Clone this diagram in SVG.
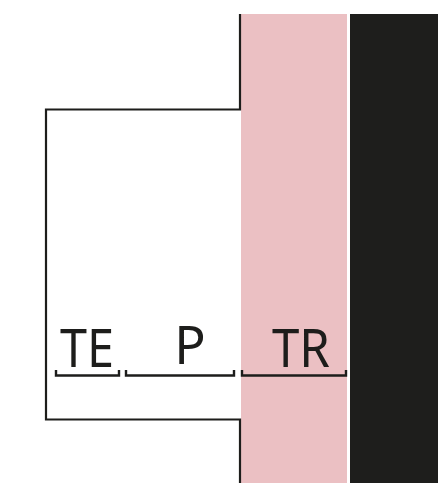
<svg xmlns="http://www.w3.org/2000/svg" width="438" height="483" viewBox="0 0 438 483">
<style>
.ln{fill:none;stroke:#1d1d1b;stroke-width:2.2}
.br{fill:none;stroke:#1d1d1b;stroke-width:2.4}
.lb{font-family:"Noto Sans","Open Sans",sans-serif;font-size:52px;fill:#1d1d1b;text-anchor:middle}
</style>
<rect width="438" height="483" fill="#ffffff"/>
<g id="layer-TR-fill">
<rect x="241" y="14" width="106" height="469" fill="#ebc0c3"/>
</g>
<g id="layer-dark">
<rect x="350" y="14" width="88" height="469" fill="#1e1e1c"/>
</g>
<g id="outline">
<path class="ln" d="M240,14 V109.5 H46 V419.5 H240 V483"/>
</g>
<g id="connectors">
<path class="br" d="M56,370 V375.5 H119 V370"/>
<path class="br" d="M126,370 V375.5 H234 V370"/>
<path class="br" d="M242,370 V375.5 H346 V370"/>
</g>
<g id="label-TE"><text class="lb" x="87" y="367" textLength="54" lengthAdjust="spacingAndGlyphs">TE</text></g>
<g id="label-P"><text class="lb" x="190" y="364">P</text></g>
<g id="label-TR"><text class="lb" x="301" y="367" textLength="58" lengthAdjust="spacingAndGlyphs">TR</text></g>
</svg>
